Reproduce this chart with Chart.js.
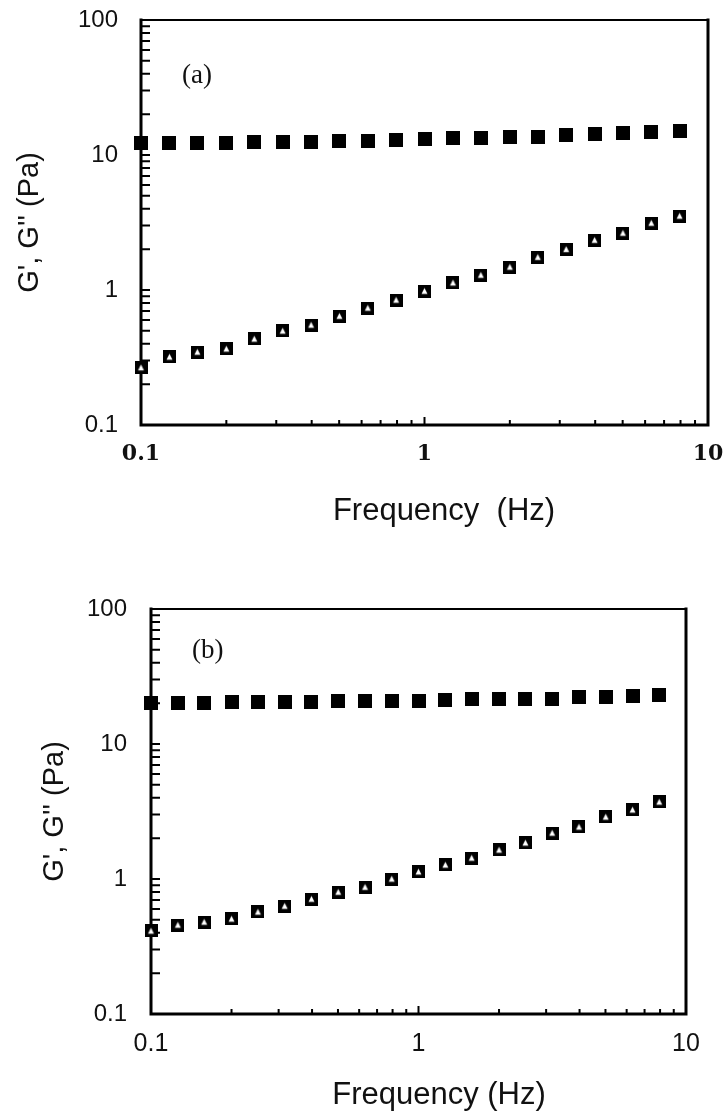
<!DOCTYPE html>
<html>
<head>
<meta charset="utf-8">
<script src="https://cdn.jsdelivr.net/npm/chart.js@4.4.1/dist/chart.umd.min.js"></script>
<style>
    body { margin: 0; background: #fff; }
    canvas { display: block; }
</style>
</head>
<body>
<canvas id="chartA" width="725" height="560"></canvas>
<canvas id="chartB" width="725" height="556"></canvas>
<script>
// Frequency sweep (Hz), same for both panels
const freq = [0.1, 0.126, 0.158, 0.2, 0.251, 0.316, 0.398, 0.501, 0.631, 0.794,
              1, 1.26, 1.58, 2, 2.51, 3.16, 3.98, 5.01, 6.31, 7.94];

// Panel (a)
const gPrimeA = [12.3, 12.3, 12.3, 12.3, 12.4, 12.4, 12.5, 12.6, 12.8, 12.9,
                 13.1, 13.3, 13.4, 13.5, 13.7, 14.0, 14.2, 14.5, 14.7, 15.1];
const gDoubleA = [0.266, 0.319, 0.347, 0.366, 0.434, 0.497, 0.55, 0.64, 0.735, 0.843,
                  0.98, 1.13, 1.29, 1.48, 1.75, 2.0, 2.34, 2.64, 3.13, 3.53];

// Panel (b)
const gPrimeB = [20.0, 20.1, 20.2, 20.3, 20.4, 20.5, 20.6, 20.7, 20.9, 20.9,
                 21.0, 21.2, 21.4, 21.5, 21.6, 21.7, 22.2, 22.4, 22.6, 23.2];
const gDoubleB = [0.412, 0.456, 0.48, 0.506, 0.57, 0.63, 0.71, 0.80, 0.87, 1.0,
                  1.13, 1.27, 1.43, 1.64, 1.85, 2.19, 2.43, 2.88, 3.25, 3.72];

// Axis ticks
const xLabelTicks = [0.1, 1, 10];
const yLabelTicks = [0.1, 1, 10, 100];
const xMinorTicks = [0.2, 0.3, 0.4, 0.5, 0.6, 0.7, 0.8, 0.9, 2, 3, 4, 5, 6, 7, 8, 9];
const yMinorTicks = [0.2, 0.3, 0.4, 0.5, 0.6, 0.7, 0.8, 0.9, 2, 3, 4, 5, 6, 7, 8, 9,
                     20, 30, 40, 50, 60, 70, 80, 90];

// marker images
function squareMarker(size) {
    const c = document.createElement('canvas');
    c.width = size; c.height = size;
    const g = c.getContext('2d');
    g.fillStyle = '#000';
    g.fillRect(0, 0, size, size);
    return c;
}

function triangleMarker(size) {
    const c = squareMarker(size);
    const g = c.getContext('2d');
    g.fillStyle = '#fff';
    g.beginPath();
    g.moveTo(size / 2, size * 0.25);
    g.lineTo(size * 0.27, size * 0.72);
    g.lineTo(size * 0.73, size * 0.72);
    g.closePath();
    g.fill();
    return c;
}

const filledSq = squareMarker(14);
const openTri = triangleMarker(13);

// frame, inward ticks, x title and panel tag
const panelDecor = {
    id: 'panelDecor',
    beforeDatasetsDraw(chart, args, opts) {
        const ctx = chart.ctx;
        const a = chart.chartArea;
        const xs = chart.scales.x;
        const ys = chart.scales.y;
        ctx.save();
        ctx.strokeStyle = '#000';
        ctx.lineCap = 'square';

        ctx.lineWidth = 2;
        ctx.beginPath();
        ctx.moveTo(a.left, a.top);
        ctx.lineTo(a.right, a.top);
        ctx.stroke();

        ctx.lineWidth = 3;
        ctx.beginPath();
        ctx.moveTo(a.left, a.top);
        ctx.lineTo(a.left, a.bottom);
        ctx.lineTo(a.right, a.bottom);
        ctx.lineTo(a.right, a.top);
        ctx.stroke();

        ctx.lineWidth = 2;
        ctx.lineCap = 'butt';
        ctx.beginPath();
        yMinorTicks.concat(yLabelTicks).forEach(v => {
            const y = ys.getPixelForValue(v);
            ctx.moveTo(a.left, y);
            ctx.lineTo(a.left + 9, y);
        });
        xMinorTicks.forEach(v => {
            const x = xs.getPixelForValue(v);
            ctx.moveTo(x, a.bottom);
            ctx.lineTo(x, a.bottom - 5);
        });
        xLabelTicks.forEach(v => {
            const x = xs.getPixelForValue(v);
            ctx.moveTo(x, a.bottom);
            ctx.lineTo(x, a.bottom - 8);
        });
        ctx.stroke();

        ctx.fillStyle = '#111';
        ctx.textBaseline = 'middle';
        ctx.textAlign = 'center';
        ctx.font = '31px "Liberation Sans", Arial, sans-serif';
        ctx.fillText(opts.xTitle, opts.xTitleX, opts.xTitleY);

        ctx.textAlign = 'left';
        ctx.font = '27px "Liberation Serif", "Times New Roman", serif';
        ctx.fillText(opts.tag, opts.tagX, opts.tagY);
        ctx.restore();
    }
};

function makePanel(canvasId, p) {
    const ctx = document.getElementById(canvasId);
    return new Chart(ctx, {
        type: 'scatter',
        data: {
            datasets: [
                {
                    label: "G'",
                    data: freq.map((f, i) => ({ x: f, y: p.gPrime[i] })),
                    pointStyle: filledSq,
                    clip: false
                },
                {
                    label: "G''",
                    data: freq.map((f, i) => ({ x: f, y: p.gDouble[i] })),
                    pointStyle: openTri,
                    clip: false
                }
            ]
        },
        plugins: [panelDecor],
        options: {
            responsive: false,
            animation: false,
            events: [],
            layout: { padding: p.padding },
            plugins: {
                legend: { display: false },
                tooltip: { enabled: false },
                panelDecor: p.decor
            },
            scales: {
                x: {
                    type: 'logarithmic',
                    min: 0.1,
                    max: 10,
                    afterBuildTicks: s => { s.ticks = xLabelTicks.map(v => ({ value: v })); },
                    afterFit: s => {
                        s.height = p.xHeight;
                        s.paddingLeft = 0;
                        s.paddingRight = 0;
                    },
                    grid: { display: false, drawTicks: false },
                    border: { display: false },
                    ticks: {
                        autoSkip: false,
                        maxRotation: 0,
                        padding: p.xTickPad,
                        color: '#111',
                        font: p.xTickFont,
                        callback: v => String(v)
                    }
                },
                y: {
                    type: 'logarithmic',
                    min: 0.1,
                    max: 100,
                    afterBuildTicks: s => { s.ticks = yLabelTicks.map(v => ({ value: v })); },
                    afterFit: s => {
                        s.width = p.yWidth;
                        s.paddingTop = 0;
                        s.paddingBottom = 0;
                    },
                    grid: { display: false, drawTicks: false },
                    border: { display: false },
                    ticks: {
                        autoSkip: false,
                        padding: p.yTickPad,
                        color: '#111',
                        font: { family: '"Liberation Sans", Arial, sans-serif', size: 24 },
                        callback: v => String(v)
                    },
                    title: {
                        display: true,
                        text: "G', G'' (Pa)",
                        color: '#111',
                        font: { family: '"Liberation Sans", Arial, sans-serif', size: 29 },
                        padding: { top: p.yTitlePad, bottom: 0 }
                    }
                }
            }
        }
    });
}

makePanel('chartA', {
    gPrime: gPrimeA,
    gDouble: gDoubleA,
    padding: { top: 20, right: 17, left: 0, bottom: 0 },
    xHeight: 135,
    yWidth: 141,
    xTickPad: 16,
    yTickPad: 23,
    yTitlePad: 13,
    xTickFont: { family: '"DejaVu Serif", "Liberation Serif", serif', size: 22, weight: 'bold' },
    decor: { xTitle: 'Frequency  (Hz)', xTitleX: 444, xTitleY: 511, tag: '(a)', tagX: 182, tagY: 76 }
});

makePanel('chartB', {
    gPrime: gPrimeB,
    gDouble: gDoubleB,
    padding: { top: 49, right: 39, left: 0, bottom: 0 },
    xHeight: 102,
    yWidth: 151,
    xTickPad: 15,
    yTickPad: 24,
    yTitlePad: 38,
    xTickFont: { family: '"Liberation Sans", Arial, sans-serif', size: 25 },
    decor: { xTitle: 'Frequency (Hz)', xTitleX: 439, xTitleY: 535, tag: '(b)', tagX: 192, tagY: 91 }
});
</script>
</body>
</html>
